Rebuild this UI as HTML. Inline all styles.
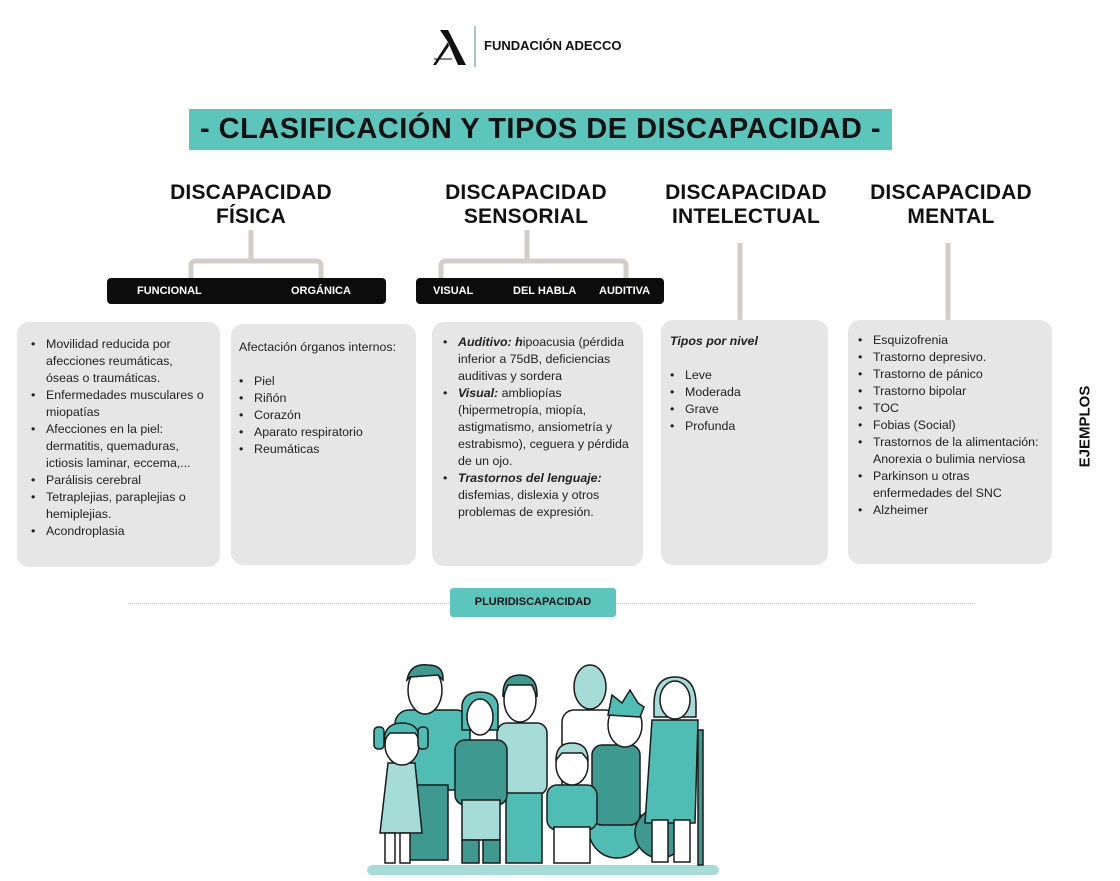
<!DOCTYPE html>
<html><head><meta charset="utf-8">
<style>
*{margin:0;padding:0;box-sizing:border-box}
body{width:1120px;height:881px;background:#fff;position:relative;overflow:hidden;font-family:"Liberation Sans","DejaVu Sans",sans-serif;color:#222}
.a{position:absolute}
.h{font-weight:bold;font-size:21px;line-height:24px;text-align:center;color:#111;letter-spacing:0.2px}
.bar{background:#0c0c0c;border-radius:4px;height:26px;color:#fff;font-weight:bold;font-size:11px}
.bar span{position:absolute;top:7px}
.box{background:#e6e6e6;border-radius:12px;font-size:12.4px;line-height:17px;color:#222}
.box ul{list-style:none}
.box li{position:relative;padding-left:15px}
.box li:before{content:"•";position:absolute;left:0;top:0}
</style></head><body>
<svg class="a" style="left:430px;top:26px" width="45" height="42"><polygon points="10,4 18,4 36,39 28,39 18,16" fill="#111"/><polygon points="18,16 3,39 6,39 19,20" fill="#111"/><line x1="4" y1="33" x2="22" y2="33" stroke="#111" stroke-width="1"/></svg>
<div class="a" style="left:474px;top:26px;width:2px;height:41px;background:#a9c6c3"></div>
<div class="a" style="left:484px;top:38px;font-weight:bold;font-size:13px;color:#111">FUNDACIÓN ADECCO</div>
<div class="a" style="left:189px;top:109px;width:703px;height:41px;background:#5cc6bd;text-align:center;font-weight:bold;font-size:29px;line-height:41px;color:#111;letter-spacing:0.5px">- CLASIFICACIÓN Y TIPOS DE DISCAPACIDAD -</div>
<div class="a h" style="left:151px;top:181px;width:200px">DISCAPACIDAD<br>FÍSICA</div>
<div class="a h" style="left:426px;top:181px;width:200px">DISCAPACIDAD<br>SENSORIAL</div>
<div class="a h" style="left:646px;top:181px;width:200px">DISCAPACIDAD<br>INTELECTUAL</div>
<div class="a h" style="left:851px;top:181px;width:200px">DISCAPACIDAD<br>MENTAL</div>
<svg class="a" style="left:0;top:0" width="1120" height="330">
<g fill="none" stroke="#d3cec7" stroke-width="5">
<path d="M251 230 V261 M191 278 V266 Q191 261 196 261 H316 Q321 261 321 266 V278"/>
<path d="M527 230 V261 M441 278 V266 Q441 261 446 261 H621 Q626 261 626 266 V278"/>
<path d="M740 243 V320"/>
<path d="M948 243 V320"/>
</g></svg>
<div class="a bar" style="left:107px;top:278px;width:279px"><span style="left:30px">FUNCIONAL</span><span style="left:184px">ORGÁNICA</span></div>
<div class="a bar" style="left:416px;top:278px;width:248px"><span style="left:17px">VISUAL</span><span style="left:97px">DEL HABLA</span><span style="left:183px">AUDITIVA</span></div>
<div class="a box" style="left:17px;top:322px;width:203px;height:245px;padding:14px 12px 0 14px">
<ul><li>Movilidad reducida por afecciones reumáticas, óseas o traumáticas.</li><li>Enfermedades musculares o miopatías</li><li>Afecciones en la piel: dermatitis, quemaduras, ictiosis laminar, eccema,...</li><li>Parálisis cerebral</li><li>Tetraplejias, paraplejias o hemiplejias.</li><li>Acondroplasia</li></ul></div>
<div class="a box" style="left:231px;top:324px;width:185px;height:241px;padding:15px 0 0 8px">Afectación órganos internos:<br><br>
<ul><li>Piel</li><li>Riñón</li><li>Corazón</li><li>Aparato respiratorio</li><li>Reumáticas</li></ul></div>
<div class="a box" style="left:432px;top:322px;width:211px;height:244px;padding:12px 14px 0 11px">
<ul><li><b><i>Auditivo: h</i></b>ipoacusia (pérdida inferior a 75dB, deficiencias auditivas y sordera</li><li><b><i>Visual:</i></b> ambliopías (hipermetropía, miopía, astigmatismo, ansiometría y estrabismo), ceguera y pérdida de un ojo.</li><li><b><i>Trastornos del lenguaje:</i></b> disfemias, dislexia y otros problemas de expresión.</li></ul></div>
<div class="a box" style="left:661px;top:320px;width:167px;height:245px;padding:13px 0 0 9px"><b><i>Tipos por nivel</i></b><br><br>
<ul><li>Leve</li><li>Moderada</li><li>Grave</li><li>Profunda</li></ul></div>
<div class="a box" style="left:848px;top:320px;width:204px;height:244px;padding:12px 4px 0 10px">
<ul><li>Esquizofrenia</li><li>Trastorno depresivo.</li><li>Trastorno de pánico</li><li>Trastorno bipolar</li><li>TOC</li><li>Fobias (Social)</li><li>Trastornos de la alimentación: Anorexia o bulimia nerviosa</li><li>Parkinson u otras enfermedades del SNC</li><li>Alzheimer</li></ul></div>
<div class="a" style="left:1040px;top:418px;width:90px;transform:rotate(-90deg);font-weight:bold;font-size:15px;text-align:center;color:#111">EJEMPLOS</div>
<div class="a" style="left:128px;top:603px;width:847px;border-top:1px dotted #bbb"></div>
<div class="a" style="left:450px;top:588px;width:166px;height:29px;background:#5cc6bd;border-radius:3px;text-align:center;line-height:29px;font-weight:bold;font-size:11px;color:#111">PLURIDISCAPACIDAD</div>
<svg class="a" style="left:360px;top:655px" width="370" height="226">
<g stroke="#1a1a1a" stroke-width="1.5">
<rect x="7" y="210" width="352" height="10" rx="5" fill="#a6dcd8" stroke="none"/>
<rect x="35" y="55" width="75" height="80" rx="14" fill="#4fbdb3"/>
<rect x="48" y="130" width="40" height="75" fill="#3e9a90"/>
<ellipse cx="65" cy="35" rx="17" ry="24" fill="#fff"/>
<path d="M47 25 Q50 8 68 10 Q84 10 83 25 L78 20 L50 22Z" fill="#3e9a90"/>
<rect x="202" y="55" width="55" height="90" rx="12" fill="#fff"/>
<ellipse cx="230" cy="32" rx="16" ry="22" fill="#a6dcd8"/>
<rect x="137" y="68" width="50" height="72" rx="10" fill="#a6dcd8"/>
<rect x="146" y="138" width="36" height="70" fill="#4fbdb3"/>
<ellipse cx="160" cy="45" rx="16" ry="22" fill="#fff"/>
<path d="M143 42 Q142 20 160 20 Q178 20 177 42 L172 30 L148 30Z" fill="#3e9a90"/>
<rect x="95" y="85" width="52" height="65" rx="10" fill="#3e9a90"/>
<rect x="102" y="145" width="38" height="40" fill="#a6dcd8"/>
<rect x="102" y="185" width="17" height="23" fill="#3e9a90"/><rect x="123" y="185" width="17" height="23" fill="#3e9a90"/>
<path d="M102 50 Q104 37 120 37 Q136 37 138 50 L138 75 L102 75Z" fill="#4fbdb3"/>
<ellipse cx="120" cy="62" rx="13" ry="18" fill="#fff"/>
<path d="M28 108 L55 108 L62 178 L20 178Z" fill="#a6dcd8"/>
<rect x="25" y="178" width="10" height="30" fill="#fff"/><rect x="40" y="178" width="10" height="30" fill="#fff"/>
<ellipse cx="42" cy="90" rx="17" ry="20" fill="#fff"/>
<path d="M24 85 Q25 68 42 68 Q59 68 60 85 L55 78 L30 78Z" fill="#4fbdb3"/>
<rect x="14" y="72" width="10" height="22" rx="4" fill="#4fbdb3"/><rect x="58" y="72" width="10" height="22" rx="4" fill="#4fbdb3"/>
<circle cx="257" cy="175" r="28" fill="#4fbdb3"/>
<circle cx="300" cy="178" r="25" fill="#3e9a90"/>
<rect x="232" y="90" width="48" height="80" rx="10" fill="#3e9a90"/>
<ellipse cx="265" cy="70" rx="17" ry="22" fill="#fff"/>
<path d="M248 60 L252 40 L262 48 L270 35 L278 48 L284 52 L280 62Z" fill="#4fbdb3"/>
<rect x="187" y="130" width="50" height="45" rx="10" fill="#4fbdb3"/>
<rect x="194" y="172" width="36" height="36" fill="#fff"/>
<ellipse cx="212" cy="110" rx="16" ry="20" fill="#fff"/>
<path d="M196 105 Q196 88 212 88 Q228 88 228 105 L222 98 L202 98Z" fill="#a6dcd8"/>
<path d="M292 65 L338 65 L335 168 L285 168Z" fill="#4fbdb3"/>
<rect x="292" y="165" width="16" height="42" fill="#fff"/><rect x="314" y="165" width="16" height="42" fill="#fff"/>
<path d="M294 50 Q294 22 315 22 Q336 22 336 50 L336 62 L294 62Z" fill="#a6dcd8"/>
<ellipse cx="315" cy="45" rx="15" ry="19" fill="#fff"/>
<rect x="338" y="75" width="5" height="135" fill="#3e9a90"/>
</g></svg>
</body></html>
